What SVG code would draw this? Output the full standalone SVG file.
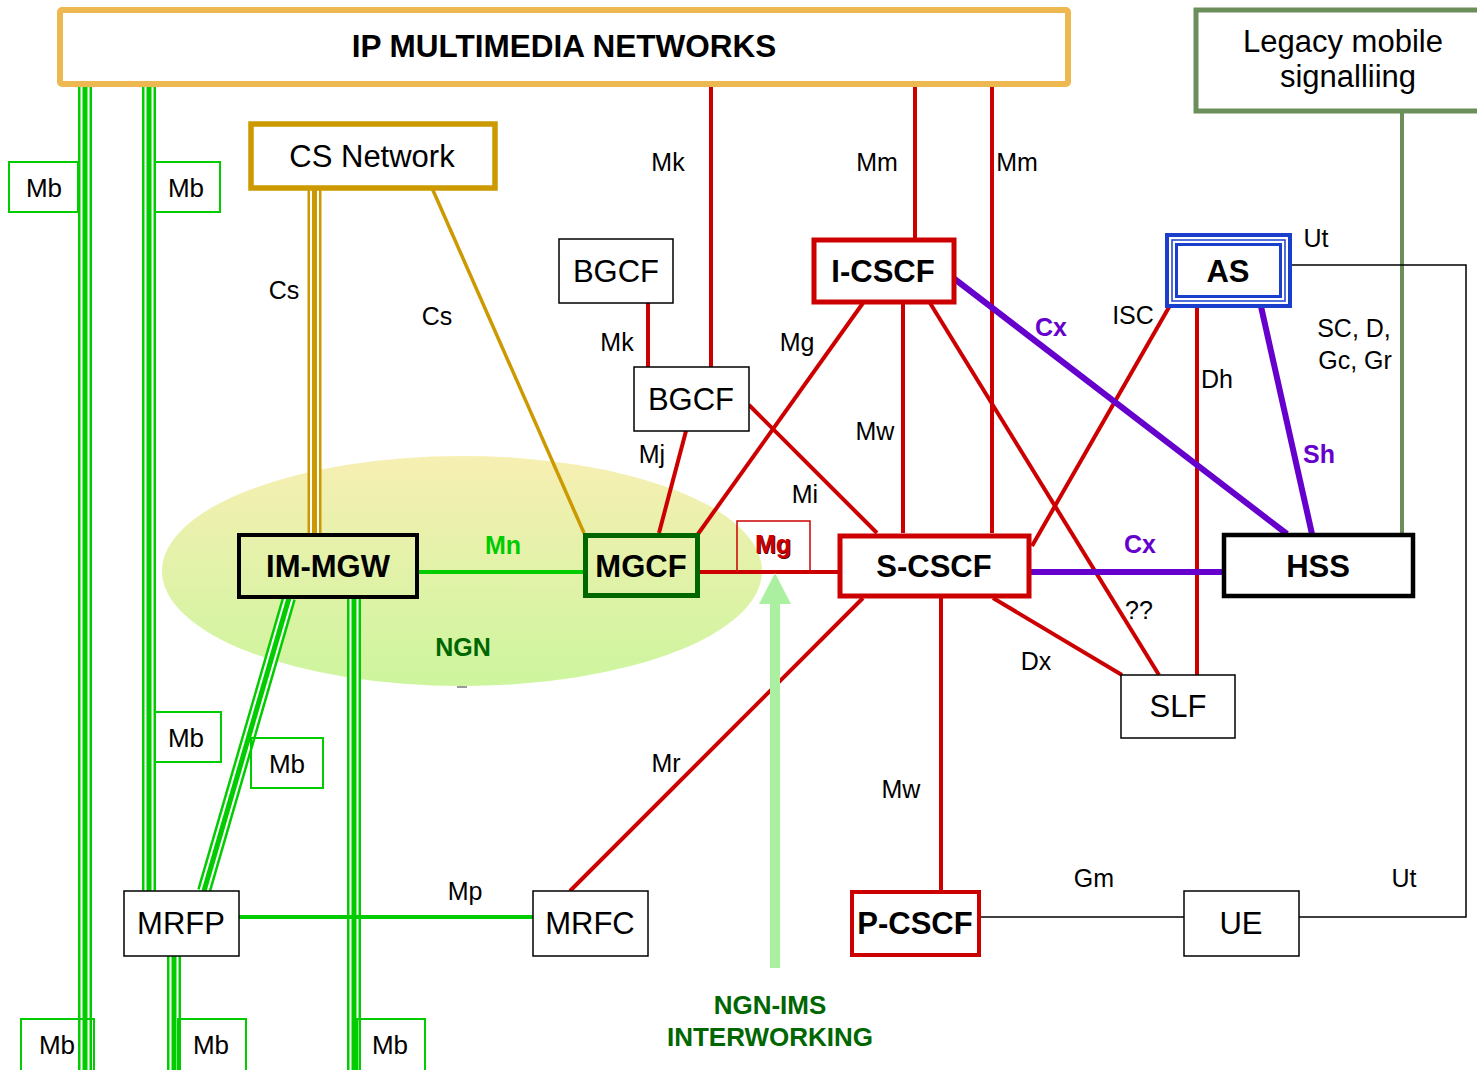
<svg xmlns="http://www.w3.org/2000/svg" width="1477" height="1070" viewBox="0 0 1477 1070">
  <defs>
    <linearGradient id="ngnFill" x1="0" y1="0" x2="0" y2="1">
      <stop offset="0" stop-color="#F7EFB3"/>
      <stop offset="1" stop-color="#CDF59E"/>
    </linearGradient>
    <!-- bearer (Mb) and Cs trunk paths, drawn as triple lines -->
    <path id="mbA" d="M85 85V1070"/>
    <path id="mbB" d="M149 85V891"/>
    <path id="mbC" d="M354 598V1070"/>
    <path id="mbD" d="M174 956V1070"/>
    <path id="mbE" d="M289 598L204 891"/>
    <path id="csTrunk" d="M314.5 188V533"/>
  </defs>
  <style>
    text { font-family: "Liberation Sans", Arial, Helvetica, sans-serif; }
    .box { fill: #fff; stroke: #000; stroke-width: 1.5; }
    .tn { font-size: 31px; text-anchor: middle; fill: #000; }
    .b { font-weight: bold; }
    .lbl { font-size: 25px; text-anchor: middle; fill: #000; }
    .lbl.cx { fill: #6600CC; font-weight: bold; }
    .lbl.mn { fill: #00CC00; font-weight: bold; }
    .mbbox { fill: none; stroke: #00CC00; stroke-width: 2; }
    .mbt { font-size: 26px; text-anchor: middle; fill: #000; }
    .red { stroke: #CC0000; stroke-width: 4; fill: none; }
    .pur { stroke: #6600CC; stroke-width: 6; fill: none; }
    .thin { stroke: #000; stroke-width: 1.5; fill: none; }
    .g1 { stroke: #00CC00; stroke-width: 14; fill: none; }
    .g2 { stroke: #fff; stroke-width: 9; fill: none; }
    .g3 { stroke: #00CC00; stroke-width: 5; fill: none; }
    .o1 { stroke: #CC9900; stroke-width: 14; fill: none; }
    .o2 { stroke: #fff; stroke-width: 9; fill: none; }
    .o3 { stroke: #CC9900; stroke-width: 5; fill: none; }
    .ngnt { font-weight: bold; text-anchor: middle; fill: #006600; }
  </style>

  <rect width="1477" height="1070" fill="#fff"/>

  <!-- NGN domain -->
  <g id="ngn">
    <ellipse cx="462" cy="571" rx="300" ry="115" fill="url(#ngnFill)"/>
    <text class="ngnt" x="463" y="656" font-size="25">NGN</text>
    <line x1="457" y1="687" x2="467" y2="687" stroke="#777" stroke-width="1.5"/>
  </g>

  <!-- connectors -->
  <g id="connectors">
    <!-- Mb bearer triple lines -->
    <use href="#mbA" class="g1"/><use href="#mbA" class="g2"/><use href="#mbA" class="g3"/>
    <use href="#mbB" class="g1"/><use href="#mbB" class="g2"/><use href="#mbB" class="g3"/>
    <use href="#mbC" class="g1"/><use href="#mbC" class="g2"/><use href="#mbC" class="g3"/>
    <use href="#mbD" class="g1"/><use href="#mbD" class="g2"/><use href="#mbD" class="g3"/>
    <use href="#mbE" class="g1"/><use href="#mbE" class="g2"/><use href="#mbE" class="g3"/>

    <!-- Cs -->
    <use href="#csTrunk" class="o1"/><use href="#csTrunk" class="o2"/><use href="#csTrunk" class="o3"/>
    <line x1="432" y1="188" x2="584" y2="533" stroke="#CC9900" stroke-width="3.5"/>

    <!-- Mn, Mp -->
    <line x1="418" y1="572" x2="584" y2="572" stroke="#00CC00" stroke-width="4"/>
    <line x1="239" y1="917" x2="533" y2="917" stroke="#00CC00" stroke-width="4"/>

    <!-- legacy signalling to HSS -->
    <line x1="1402" y1="111" x2="1402" y2="533" stroke="#6B8E5A" stroke-width="4"/>

    <!-- signalling (red) -->
    <line class="red" x1="711" y1="85" x2="711" y2="367"/>
    <line class="red" x1="648" y1="303" x2="648" y2="367"/>
    <line class="red" x1="915" y1="85" x2="915" y2="239"/>
    <line class="red" x1="992" y1="85" x2="992" y2="533"/>
    <line class="red" x1="686" y1="431" x2="659" y2="533"/>
    <line class="red" x1="749" y1="405" x2="877" y2="533"/>
    <line class="red" x1="863" y1="303" x2="698" y2="534"/>
    <line class="red" x1="699" y1="572" x2="838" y2="572"/>
    <line class="red" x1="903" y1="303" x2="903" y2="533"/>
    <line class="red" x1="930" y1="303" x2="1159" y2="675"/>
    <line class="red" x1="1032" y1="546" x2="1172" y2="302"/>
    <line class="red" x1="1197" y1="302" x2="1197" y2="675"/>
    <line class="red" x1="993" y1="598" x2="1122" y2="675"/>
    <line class="red" x1="863" y1="598" x2="570" y2="891"/>
    <line class="red" x1="941" y1="598" x2="941" y2="891"/>

    <!-- Cx / Sh (purple) -->
    <line class="pur" x1="952" y1="277" x2="1287" y2="534"/>
    <line class="pur" x1="1030" y1="572" x2="1224" y2="572"/>
    <line class="pur" x1="1260" y1="302" x2="1312" y2="534"/>

    <!-- Gm, Ut (thin black) -->
    <line class="thin" x1="980" y1="917" x2="1184" y2="917"/>
    <polyline class="thin" points="1287,265 1466,265 1466,917 1299,917"/>

    <!-- Mg interface tag -->
    <rect x="737" y="521" width="73" height="51" fill="none" stroke="#CC0000" stroke-width="1.5"/>
    <text x="774" y="554" font-size="25" font-weight="bold" text-anchor="middle" fill="#550000">Mg</text>
    <text x="773" y="553" font-size="25" font-weight="bold" text-anchor="middle" fill="#CC0000">Mg</text>

    <!-- interface labels -->
    <text class="lbl" x="668" y="171">Mk</text>
    <text class="lbl" x="877" y="171">Mm</text>
    <text class="lbl" x="1017" y="171">Mm</text>
    <text class="lbl" x="284" y="299">Cs</text>
    <text class="lbl" x="437" y="325">Cs</text>
    <text class="lbl" x="617" y="351">Mk</text>
    <text class="lbl" x="797" y="351">Mg</text>
    <text class="lbl" x="652" y="463">Mj</text>
    <text class="lbl" x="805" y="503">Mi</text>
    <text class="lbl" x="875" y="440">Mw</text>
    <text class="lbl" x="1133" y="324">ISC</text>
    <text class="lbl" x="1316" y="247">Ut</text>
    <text class="lbl" x="1354" y="337">SC, D,</text>
    <text class="lbl" x="1355" y="369">Gc, Gr</text>
    <text class="lbl" x="1217" y="388">Dh</text>
    <text class="lbl" x="1139" y="619">??</text>
    <text class="lbl" x="1036" y="670">Dx</text>
    <text class="lbl" x="666" y="772">Mr</text>
    <text class="lbl" x="901" y="798">Mw</text>
    <text class="lbl" x="465" y="900">Mp</text>
    <text class="lbl" x="1094" y="887">Gm</text>
    <text class="lbl" x="1404" y="887">Ut</text>
    <text class="lbl cx" x="1051" y="336">Cx</text>
    <text class="lbl cx" x="1140" y="553">Cx</text>
    <text class="lbl cx" x="1319" y="463">Sh</text>
    <text class="lbl mn" x="503" y="554">Mn</text>

    <!-- Mb tags -->
    <rect class="mbbox" x="9" y="162" width="69" height="50"/>
    <text class="mbt" x="44" y="197">Mb</text>
    <rect class="mbbox" x="155" y="162" width="65" height="50"/>
    <text class="mbt" x="186" y="197">Mb</text>
    <rect class="mbbox" x="155" y="712" width="66" height="50"/>
    <text class="mbt" x="186" y="747">Mb</text>
    <rect class="mbbox" x="251" y="738" width="72" height="50"/>
    <text class="mbt" x="287" y="773">Mb</text>
    <rect class="mbbox" x="21" y="1019" width="73" height="55"/>
    <text class="mbt" x="57" y="1054">Mb</text>
    <rect class="mbbox" x="178" y="1019" width="68" height="55"/>
    <text class="mbt" x="211" y="1054">Mb</text>
    <rect class="mbbox" x="357" y="1019" width="68" height="55"/>
    <text class="mbt" x="390" y="1054">Mb</text>
  </g>

  <!-- NGN-IMS interworking pointer -->
  <g id="interworking">
    <rect x="770" y="600" width="10" height="368" fill="#AAF0A0"/>
    <polygon points="775,573 759,604 791,604" fill="#AAF0A0"/>
    <text class="ngnt" x="770" y="1014" font-size="26">NGN-IMS</text>
    <text class="ngnt" x="770" y="1046" font-size="26">INTERWORKING</text>
  </g>

  <!-- nodes -->
  <g id="ip-multimedia">
    <rect x="60" y="10" width="1008" height="74" rx="2" fill="#fff" stroke="#EDB850" stroke-width="6"/>
    <text x="564" y="57" font-size="31.5" font-weight="bold" text-anchor="middle">IP MULTIMEDIA NETWORKS</text>
  </g>
  <g id="legacy">
    <rect x="1196" y="10" width="300" height="101" fill="#fff" stroke="#6B8E5A" stroke-width="5"/>
    <text x="1343" y="52" font-size="31" text-anchor="middle">Legacy mobile</text>
    <text x="1348" y="87" font-size="31" text-anchor="middle">signalliing</text>
  </g>
  <g id="cs-network">
    <rect x="251" y="124" width="244" height="64" fill="#fff" stroke="#CC9900" stroke-width="5.5"/>
    <text class="tn" x="372" y="167">CS Network</text>
  </g>
  <g id="bgcf-1">
    <rect class="box" x="559" y="239" width="114" height="64"/>
    <text class="tn" x="616" y="282">BGCF</text>
  </g>
  <g id="bgcf-2">
    <rect class="box" x="634" y="367" width="115" height="64"/>
    <text class="tn" x="691" y="410">BGCF</text>
  </g>
  <g id="i-cscf">
    <rect x="814" y="240" width="140" height="62" fill="#fff" stroke="#CC0000" stroke-width="5"/>
    <text class="tn b" x="883" y="282">I-CSCF</text>
  </g>
  <g id="as">
    <rect x="1167" y="235" width="123" height="71" fill="#fff" stroke="#1A3FCC" stroke-width="4"/>
    <rect x="1172" y="240" width="113" height="61" fill="none" stroke="#1A3FCC" stroke-width="1.5"/>
    <rect x="1176.5" y="244.5" width="104" height="52" fill="none" stroke="#1A3FCC" stroke-width="3"/>
    <text class="tn b" x="1228" y="282">AS</text>
  </g>
  <g id="im-mgw">
    <rect x="239" y="535" width="178" height="62" fill="none" stroke="#000" stroke-width="4"/>
    <text class="tn b" x="328" y="577">IM-MGW</text>
  </g>
  <g id="mgcf">
    <rect x="585.5" y="535.5" width="112" height="60" fill="none" stroke="#006600" stroke-width="5"/>
    <text class="tn b" x="641" y="577">MGCF</text>
  </g>
  <g id="s-cscf">
    <rect x="840" y="536" width="189" height="60" fill="#fff" stroke="#CC0000" stroke-width="5"/>
    <text class="tn b" x="934" y="577">S-CSCF</text>
  </g>
  <g id="hss">
    <rect x="1224" y="535" width="189" height="61" fill="#fff" stroke="#000" stroke-width="4.5"/>
    <text class="tn b" x="1318" y="577">HSS</text>
  </g>
  <g id="slf">
    <rect class="box" x="1121" y="675" width="114" height="63"/>
    <text class="tn" x="1178" y="717">SLF</text>
  </g>
  <g id="mrfp">
    <rect class="box" x="124" y="891" width="115" height="65"/>
    <text class="tn" x="181" y="934">MRFP</text>
  </g>
  <g id="mrfc">
    <rect class="box" x="533" y="891" width="115" height="65"/>
    <text class="tn" x="590" y="934">MRFC</text>
  </g>
  <g id="p-cscf">
    <rect x="852" y="892" width="127" height="63" fill="#fff" stroke="#CC0000" stroke-width="4"/>
    <text class="tn b" x="915" y="934">P-CSCF</text>
  </g>
  <g id="ue">
    <rect class="box" x="1184" y="891" width="115" height="65"/>
    <text class="tn" x="1241" y="934">UE</text>
  </g>
</svg>
